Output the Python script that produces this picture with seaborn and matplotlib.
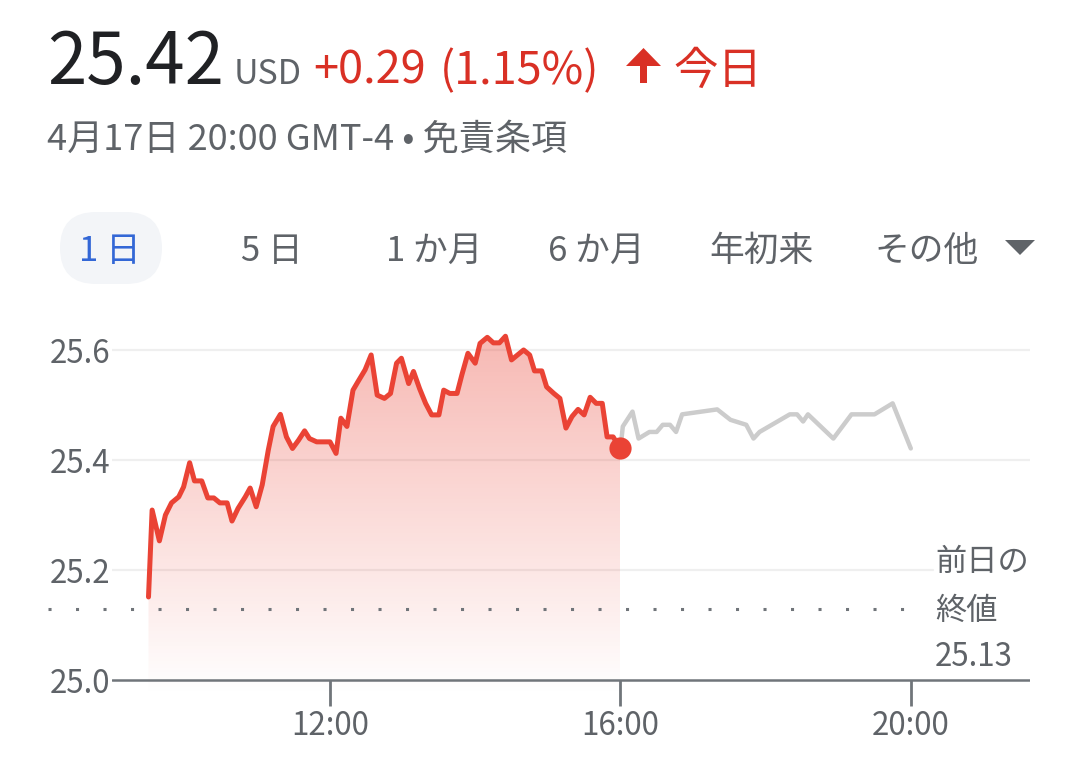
import matplotlib
matplotlib.use('Agg')
import matplotlib.pyplot as plt
import numpy as np
import seaborn as sns
from matplotlib.patches import FancyBboxPatch, Polygon
from matplotlib.transforms import Affine2D

# ---- data (time in minutes after midnight) ----
session_min = [570, 573, 579, 584, 589, 595, 599, 604, 608, 614,
               619, 624, 629, 635, 639, 644, 650, 654, 659, 664,
               669, 673, 679, 684, 689, 694, 699, 703, 709, 714,
               720, 725, 729, 734, 739, 743, 749, 754, 759, 765,
               770, 775, 779, 785, 789, 794, 799, 804, 810, 814,
               819, 825, 829, 834, 840, 844, 850, 855, 860, 865,
               870, 875, 880, 885, 889, 895, 899, 905, 910, 915,
               920, 925, 930, 935, 940, 945, 949, 954, 960]
session_price = [25.151, 25.309, 25.253, 25.300, 25.322, 25.333, 25.351, 25.395, 25.362, 25.362,
                 25.331, 25.331, 25.322, 25.322, 25.289, 25.312, 25.333, 25.349, 25.315, 25.355,
                 25.418, 25.461, 25.483, 25.442, 25.421, 25.436, 25.453, 25.439, 25.433, 25.433,
                 25.433, 25.412, 25.476, 25.461, 25.527, 25.542, 25.564, 25.591, 25.518, 25.512,
                 25.521, 25.576, 25.585, 25.539, 25.561, 25.530, 25.503, 25.482, 25.482, 25.527,
                 25.521, 25.521, 25.555, 25.594, 25.576, 25.612, 25.623, 25.613, 25.613, 25.625,
                 25.582, 25.591, 25.600, 25.591, 25.562, 25.562, 25.533, 25.521, 25.512, 25.458,
                 25.479, 25.492, 25.482, 25.514, 25.503, 25.503, 25.442, 25.442, 25.421]

after_min = [960, 962, 970, 975, 984, 990, 995, 1001, 1006, 1011, 1040, 1051,
             1064, 1070, 1075, 1100, 1106, 1111, 1115, 1136, 1151, 1170, 1185, 1200]
after_price = [25.420, 25.461, 25.488, 25.439, 25.451, 25.451, 25.464, 25.464, 25.451, 25.483,
               25.492, 25.473, 25.464, 25.439, 25.451, 25.483, 25.483, 25.470, 25.483, 25.439,
               25.483, 25.483, 25.503, 25.421]

prev_close = 25.13
y_ticks = [25.0, 25.2, 25.4, 25.6]
x_ticks = [720, 960, 1200]
x_tick_labels = ['12:00', '16:00', '20:00']
tabs = ['1 日', '5 日', '1 か月', '6 か月', '年初来', 'その他']

RED = '#ea4335'
TXT_RED = '#d93025'
GREY_TXT = '#5f6368'
AXIS_GREY = '#70757a'

sns.set_theme(style='white')
plt.rcParams['font.family'] = ['Noto Sans CJK JP', 'DejaVu Sans']

W, H = 1080, 760
fig = plt.figure(figsize=(W / 100, H / 100), dpi=100)
fig.patch.set_facecolor('white')
# reference pixel coords (y down) -> display
px = Affine2D().scale(1, -1).translate(0, H)

# chart axes: 112..1030 px wide, 320..700 px tall
ax = fig.add_axes([112 / W, (H - 700) / H, 918 / W, 380 / H])
ax.set_facecolor('white')
x_lo = 720 + (112 - 330) / 1.21
x_hi = 720 + (1030 - 330) / 1.21
y_lo = 25.0 - 20 / 550
y_hi = 25.0 + 360 / 550


def minute_at(p):
    return 720 + (p - 330) / 1.21


# gridlines
for v in y_ticks[1:]:
    ax.axhline(v, xmax=0.894 if v == 25.2 else 1.0, color='#efefef', lw=1.6, zorder=0)

# gradient fill under the session line
fill_bottom = 25.0 - 15 / 550
poly = ax.fill_between(session_min, session_price, fill_bottom, color='none', lw=0)
vals = np.linspace(fill_bottom, 25.64, 256)
alpha = np.clip(0.37 * (vals - fill_bottom) / (25.618 - fill_bottom), 0, 1)
grad = np.zeros((256, 1, 4))
grad[..., 0], grad[..., 1], grad[..., 2] = 0.918, 0.263, 0.208
grad[:, 0, 3] = alpha
im = ax.imshow(grad, extent=[session_min[0], session_min[-1], fill_bottom, 25.64],
               origin='lower', aspect='auto', interpolation='bilinear', zorder=1)
im.set_clip_path(poly.get_paths()[0], transform=ax.transData)

# baseline, ticks, previous close
ax.axhline(25.0, color=AXIS_GREY, lw=1.8, zorder=3)
ax.vlines(x_ticks, 25.0 - 26 / 550, 25.0, colors=AXIS_GREY, lw=2.0, clip_on=False, zorder=3)
ax.hlines(prev_close, minute_at(48), minute_at(918), colors=AXIS_GREY, lw=2.2,
          linestyles=(0, (1, 8)), clip_on=False, zorder=3)

# lines
sns.lineplot(x=after_min, y=after_price, ax=ax, color='#cccccc', linewidth=3.2,
             solid_joinstyle='round', zorder=4)
sns.lineplot(x=session_min, y=session_price, ax=ax, color=RED, linewidth=3.6,
             solid_joinstyle='round', zorder=5)
ax.plot(session_min[-1], session_price[-1], 'o', ms=16, color=RED, mec='none', zorder=6)

ax.set_xlim(x_lo, x_hi)
ax.set_ylim(y_lo, y_hi)
ax.set_xticks(x_ticks, x_tick_labels)
ax.set_yticks(y_ticks, [f'{v:.1f}' for v in y_ticks])
ax.tick_params(axis='x', length=0, pad=7, labelsize=22.5, labelcolor=GREY_TXT)
ax.tick_params(axis='y', length=0, pad=1.5, labelsize=22.5, labelcolor=GREY_TXT)
ax.set_xlabel('')
ax.set_ylabel('')
ax.grid(False)
sns.despine(ax=ax, left=True, bottom=True)

# previous close label
for s, yy in [('前日の', 562), ('終値', 611), ('25.13', 657)]:
    fig.text(935, yy, s, transform=px, fontsize=22.5, color=GREY_TXT, ha='left', va='center')

# header
fig.text(47, 84, '25.42', transform=px, fontsize=51, color='#202124', va='baseline')
fig.text(234, 84, 'USD', transform=px, fontsize=24.5, color=GREY_TXT, va='baseline')
fig.text(313, 84, '+0.29', transform=px, fontsize=32.5, color=TXT_RED, va='baseline')
fig.text(440, 84, '(1.15%)', transform=px, fontsize=32.5, color=TXT_RED, va='baseline')
fig.add_artist(Polygon([(640, 83), (640, 66), (626, 66), (643.5, 48), (661, 66), (647, 66), (647, 83)],
                       closed=True, transform=px, fc=TXT_RED, ec='none'))
fig.text(673, 84, '今日', transform=px, fontsize=32, color=TXT_RED, va='baseline')
fig.text(47, 150, '4月17日 20:00 GMT-4 • 免責条項', transform=px, fontsize=26,
         color=GREY_TXT, va='baseline')

# range tabs
fig.add_artist(FancyBboxPatch((60, 212), 102, 72, boxstyle='round,pad=0,rounding_size=36',
                              transform=px, fc='#f3f5f8', ec='none'))
tab_x = [110, 271.5, 434, 596.5, 761, 926.5]
for i, (lab, xx) in enumerate(zip(tabs, tab_x)):
    fig.text(xx, 251, lab, transform=px, fontsize=25, ha='center', va='center',
             color='#3367d6' if i == 0 else GREY_TXT)
fig.add_artist(Polygon([(1005, 240), (1035, 240), (1020, 255)], closed=True,
                       transform=px, fc=GREY_TXT, ec='none'))

fig.savefig('out.png', dpi=100, facecolor='white')
